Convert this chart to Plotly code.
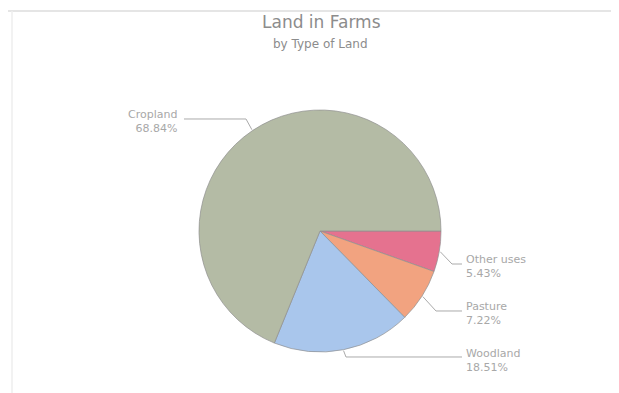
import math
import plotly.graph_objects as go

# ---- data ----
categories = ["Other uses", "Pasture", "Woodland", "Cropland"]
percent_values = [5.43, 7.22, 18.51, 68.84]
percent_labels = ["5.43%", "7.22%", "18.51%", "68.84%"]
slice_colors = ["#e5728f", "#f2a380", "#a9c6ec", "#b4bba5"]

OFF = 8  # page body margin offset
W, H = 619 - OFF, 393 - OFF
CX, CY, R = 320, 231, 121  # pie center/radius in screen px (top-left origin)
START = 90  # degrees clockwise from 12 o'clock


def px(x, y):
    return (x - OFF) / W, 1 - (y - OFF) / H


fig = go.Figure(go.Pie(
    labels=categories,
    values=percent_values,
    sort=False,
    direction="clockwise",
    rotation=START,
    marker=dict(colors=slice_colors, line=dict(color="#8f8f8f", width=0.7)),
    textinfo="none",
    hoverinfo="label+percent",
    showlegend=False,
    domain=dict(x=[px(CX - R, 0)[0], px(CX + R, 0)[0]],
                y=[px(0, CY + R)[1], px(0, CY - R)[1]]),
))

# label placements (screen px, top-left origin)
label_layout = {
    "Other uses": dict(tx=464, ty=266, anchor="left", elbow=(452, 264), end=(462, 264)),
    "Pasture": dict(tx=464, ty=313, anchor="left", elbow=(436, 311), end=(462, 311)),
    "Woodland": dict(tx=464, ty=360, anchor="left", elbow=(346, 357), end=(462, 357)),
    "Cropland": dict(tx=179, ty=121, anchor="right", elbow=(246, 119), end=(184, 119)),
}

total = sum(percent_values)
cum = 0.0
shapes = []
annotations = []
for cat, val, pct in zip(categories, percent_values, percent_labels):
    mid = START + (cum + val / 2) / total * 360
    cum += val
    a = math.radians(mid)
    ex = CX + (R + 1) * math.sin(a)
    ey = CY - (R + 1) * math.cos(a)
    L = label_layout[cat]
    pts = [(ex, ey), L["elbow"], L["end"]]
    path = "M " + " L ".join(f"{px(x, y)[0]:.5f},{px(x, y)[1]:.5f}" for x, y in pts)
    shapes.append(dict(type="path", xref="paper", yref="paper", path=path,
                       line=dict(color="#aaaaaa", width=1)))
    xa, ya = px(L["tx"], L["ty"])
    annotations.append(dict(
        x=xa, y=ya, xref="paper", yref="paper", showarrow=False,
        xanchor=L["anchor"], yanchor="middle", align=L["anchor"],
        text=f"{cat}<br>{pct}",
        font=dict(family="DejaVu Sans", size=11, color="#a8a8a8"),
    ))

# title and subtitle
tx, ty = px(321, 22)
annotations.append(dict(x=tx, y=ty, xref="paper", yref="paper",
                        showarrow=False, text="Land in Farms", xanchor="center", yanchor="middle",
                        font=dict(family="DejaVu Sans", size=17, color="#8c8c8c")))
sx, sy = px(320, 44)
annotations.append(dict(x=sx, y=sy, xref="paper", yref="paper",
                        showarrow=False, text="by Type of Land", xanchor="center", yanchor="middle",
                        font=dict(family="DejaVu Sans", size=12, color="#8c8c8c")))

# faint frame lines
fx0, fy0 = px(8, 11)
shapes.append(dict(type="line", xref="paper", yref="paper",
                   x0=fx0, y0=fy0, x1=1, y1=fy0,
                   line=dict(color="#dcdcdc", width=1.5)))
lx, ly = px(12, 11)
shapes.append(dict(type="line", xref="paper", yref="paper",
                   x0=lx, y0=ly, x1=lx, y1=0,
                   line=dict(color="#eeeeee", width=1.5)))

fig.update_layout(
    width=W, height=H,
    margin=dict(l=0, r=0, t=0, b=0),
    paper_bgcolor="white",
    plot_bgcolor="white",
    shapes=shapes,
    annotations=annotations,
)

fig.write_html("out.html")
